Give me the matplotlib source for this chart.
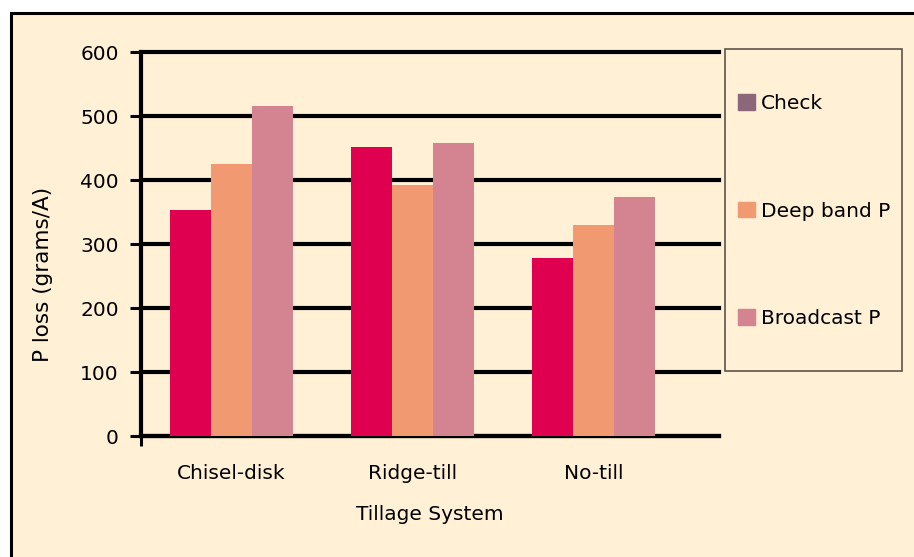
import matplotlib.pyplot as plt
import numpy as np
from matplotlib.patches import Rectangle, Patch

# data
systems = ['Chisel-disk', 'Ridge-till', 'No-till']
check = [353, 452, 278]
deep_band = [425, 392, 330]
broadcast = [515, 458, 374]
y_ticks = [0, 100, 200, 300, 400, 500, 600]

bg = '#FFF0D6'
c_check = '#DF004F'
c_deep = '#F19A72'
c_broad = '#D48390'
c_check_legend = '#8C6679'

plt.rcParams['font.family'] = ['DejaVu Sans']

W, H = 914, 557
fig = plt.figure(figsize=(W / 100, H / 100), dpi=100, facecolor='white')

# outer cream panel with border (runs off the right and bottom edge)
fig.patches.append(Rectangle((11 / W, -0.05), 1.1, (H - 13) / H + 0.05,
                             transform=fig.transFigure, facecolor=bg,
                             edgecolor='black', linewidth=2.2, zorder=-5))

ax = fig.add_axes([141 / W, (H - 436) / H, (719 - 141) / W, (436 - 52) / H])
ax.set_facecolor('none')

x = np.arange(len(systems))
w = 0.2265
ax.bar(x - w, check, w, color=c_check, zorder=3)
ax.bar(x, deep_band, w, color=c_deep, zorder=3)
ax.bar(x + w, broadcast, w, color=c_broad, zorder=3)

ax.set_ylim(0, 600)
ax.set_xlim(-0.5, 2.693)
ax.set_yticks(y_ticks)
ax.grid(axis='y', color='black', linewidth=3, zorder=1)
ax.set_axisbelow(True)
for gl in ax.get_ygridlines():
    gl.set_clip_on(False)

for s in ['top', 'right']:
    ax.spines[s].set_visible(False)
ax.spines['left'].set_linewidth(3)
ax.spines['bottom'].set_linewidth(3)

ax.tick_params(axis='y', length=8, width=2.2, pad=8, labelsize=14.5, colors='black')
# tick at the left end of the x axis only, category names as minor ticks
ax.set_xticks([-0.5])
ax.set_xticklabels([''])
ax.tick_params(axis='x', which='major', length=7, width=2.2)
ax.set_xticks(x, minor=True)
ax.set_xticklabels(systems, minor=True)
ax.tick_params(axis='x', which='minor', length=0, pad=20, labelsize=14.5)

ax.set_xlabel('Tillage System', fontsize=14.5, labelpad=16)
ax.set_ylabel('P loss (grams/A)', fontsize=15.5)
ax.yaxis.set_label_coords(-0.153, 0.42)

# legend box
fig.patches.append(Rectangle((725 / W, (H - 371) / H), (902 - 725) / W, (371 - 49) / H,
                             transform=fig.transFigure, facecolor='none',
                             edgecolor='#5E5548', linewidth=1.2, zorder=5))
handles = [Patch(color=c_check_legend, label='Check'),
           Patch(color=c_deep, label='Deep band P'),
           Patch(color=c_broad, label='Broadcast P')]
fig.legend(handles=handles, loc='upper left', bbox_to_anchor=(738 / W, (H - 94) / H),
           frameon=False, fontsize=14.5, handlelength=0.82, handleheight=0.82,
           handletextpad=0.3, labelspacing=4.4, borderpad=0, borderaxespad=0)

fig.savefig('out.png', dpi=100, facecolor='white')
